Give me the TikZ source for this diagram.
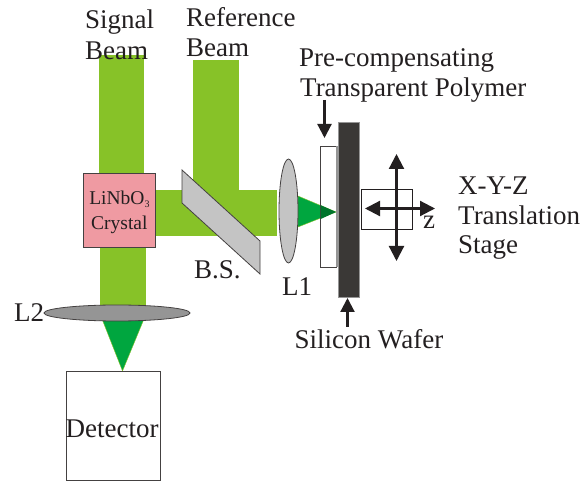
\documentclass[tikz,border=0pt]{standalone}
\usepackage{fontspec}
\setmainfont{Liberation Serif}
\usetikzlibrary{arrows.meta}
\definecolor{beam}{HTML}{87C228}
\definecolor{focus}{HTML}{00A63F}
\definecolor{ink}{HTML}{231F20}
\definecolor{crystalfill}{HTML}{EF9AA2}
\definecolor{lensgray}{HTML}{C4C4C4}
\definecolor{lensdark}{HTML}{959595}
\definecolor{waferfill}{HTML}{3A3836}
\tikzset{
  beamfill/.style={fill=beam,draw=none},
  focusfill/.style={fill=focus,draw=beam,line width=0.4pt},
  outline/.style={draw=ink!85,line width=0.8pt},
  label/.style={font=\fontsize{27}{30}\selectfont,text=ink,inner sep=0pt,align=left,anchor=base west},
  bigarrow/.style={draw=ink,line width=2.2pt,{Triangle[length=15pt,width=15pt]}-{Triangle[length=15pt,width=15pt]}},
  onearrow/.style={draw=ink,line width=2.2pt,-{Triangle[length=14pt,width=14pt]}},
}
\begin{document}
\begin{tikzpicture}[x=1pt,y=-1pt]
\useasboundingbox (0,0) rectangle (582,481);
% beams
\fill[beamfill] (99,55) rectangle (144,173);
\fill[beamfill] (193,60) rectangle (239,192);
\fill[beamfill] (155,190) rectangle (277,236);
\fill[beamfill] (100,247) rectangle (146,307);
% focus cones
\draw[focusfill] (298,196) -- (336,212) -- (298,227) -- cycle;
\draw[focusfill] (102,319) -- (144,319) -- (122.5,371) -- cycle;
% components
\node[outline,fill=crystalfill,minimum width=72pt,minimum height=74pt,inner sep=0pt,anchor=north west,
  font=\fontsize{19.5}{25}\selectfont,text=ink,align=center,text depth=0pt,yshift=-0.7pt] (crystal) at (83,172.5) {LiNbO\raisebox{-2.5pt}{\fontsize{10}{10}\selectfont 3}\\Crystal};
\draw[outline,fill=lensgray] (182,170) -- (260,241) -- (260,274) -- (182,203) -- cycle;
\draw[outline,fill=lensgray] (288.5,211) ellipse [x radius=9.5,y radius=52];
\draw[outline,fill=lensdark] (117,313) ellipse [x radius=73,y radius=8];
\node[outline,fill=white,minimum width=94pt,minimum height=109pt,inner sep=0pt,anchor=north west] (detector) at (66,371.5) {};
\node[label] at (65.5,437.5) {Detector};
% polymer and wafer
\draw[outline,line width=0.7pt] (320.7,146) rectangle (336,267);
\fill[focus!70!black] (320.7,205.2) -- (336,212) -- (320.7,219) -- cycle;
\fill[lensdark] (336,146) rectangle (338.5,267);
\node[draw=lensdark,line width=0.5pt,fill=waferfill,minimum width=21pt,minimum height=175pt,inner sep=0pt,anchor=north west] (wafer) at (338,122) {};
\node[draw=ink,line width=0.8pt,minimum width=51.5pt,minimum height=40pt,inner sep=0pt,anchor=north west] (stage) at (360.5,189) {};
% translation arrows
\coordinate (vt) at (396.5,154); \coordinate (vb) at (396.5,261);
\coordinate (hl) at (365,208.5); \coordinate (hr) at (435,208.5);
\draw[bigarrow] (vt) -- (vb);
\draw[bigarrow] (hl) -- (hr);
% pointers
\coordinate (pa) at (324.5,100); \coordinate (pb) at (324.5,138);
\coordinate (wa) at (347.5,327); \coordinate (wb) at (347.5,298);
\draw[onearrow] (pa) -- (pb);
\draw[onearrow] (wa) -- (wb);
% labels
\node[label] at (85,29) {Signal};
\node[label] at (85,59.3) {Beam};
\node[label] at (186,27) {Reference};
\node[label] at (186,57) {Beam};
\node[label] at (299,66.7) {Pre-compensating};
\node[label] at (300,96.7) {Transparent Polymer};
\node[label] at (458,195) {X-Y-Z};
\node[label] at (458,225) {Translation};
\node[label] at (458,254) {Stage};
\node[label] at (423,228.3) {z};
\node[label] at (194,279) {B.S.};
\node[label] at (282,295.7) {L1};
\node[label] at (14,321.7) {L2};
\node[label] at (294.5,348.3) {Silicon Wafer};
\end{tikzpicture}
\end{document}
